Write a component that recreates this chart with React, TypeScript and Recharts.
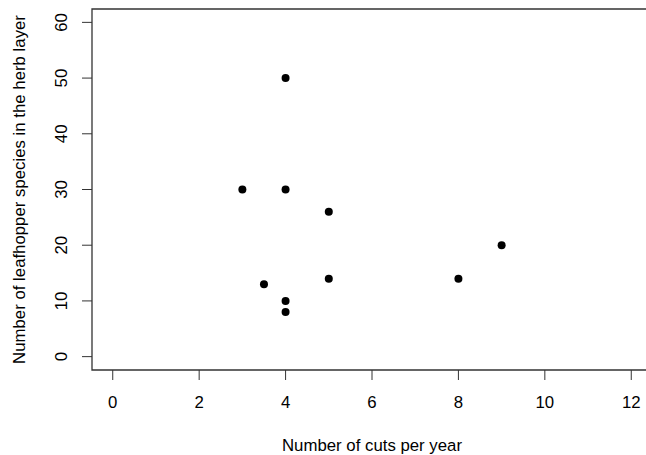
import React from "react";
import { ScatterChart, Scatter, XAxis, YAxis, ReferenceArea } from "recharts";

const cutsPerYear = [3, 3.5, 4, 4, 4, 4, 5, 5, 8, 9];
const leafhopperSpecies = [30, 13, 50, 30, 10, 8, 26, 14, 14, 20];
const xTicks = [0, 2, 4, 6, 8, 10, 12];
const yTicks = [0, 10, 20, 30, 40, 50, 60];

const data = cutsPerYear.map((x, i) => ({ x, y: leafhopperSpecies[i] }));

const FONT = "'Liberation Sans', Arial, sans-serif";
const FS = 16.8;
const AXIS = "#333333";

const XTick = (props: any) => (
  <text x={props.x} y={408} textAnchor="middle" fontFamily={FONT} fontSize={FS} fill="#000">
    {props.payload.value}
  </text>
);

const YTick = (props: any) => (
  <text
    x={67}
    y={props.y}
    textAnchor="middle"
    transform={`rotate(-90, 67, ${props.y})`}
    fontFamily={FONT}
    fontSize={FS}
    fill="#000"
  >
    {props.payload.value}
  </text>
);

const Dot = (props: any) => <circle cx={props.cx} cy={props.cy} r={4} fill="#000" />;

export default function App() {
  return (
    <div style={{ position: "absolute", left: 0, top: 0, width: 646, height: 455, overflow: "hidden", background: "#fff" }}>
      <ScatterChart width={660} height={455} margin={{ top: 9, right: 8, bottom: 84, left: 91 }}>
        <XAxis
          type="number"
          dataKey="x"
          domain={[-0.48, 12.48]}
          ticks={xTicks}
          allowDataOverflow
          height={1}
          axisLine={false}
          tickSize={10}
          tickLine={{ stroke: AXIS, strokeWidth: 1 }}
          tick={<XTick />}
          interval={0}
        />
        <YAxis
          type="number"
          dataKey="y"
          domain={[-2.4, 62.4]}
          ticks={yTicks}
          allowDataOverflow
          width={1}
          axisLine={false}
          tickSize={10}
          tickLine={{ stroke: AXIS, strokeWidth: 1 }}
          tick={<YTick />}
          interval={0}
        />
        <ReferenceArea
          x1={-0.48}
          x2={12.48}
          y1={-2.4}
          y2={62.4}
          fill="none"
          stroke={AXIS}
          strokeWidth={1.3}
          ifOverflow="visible"
        />
        <Scatter data={data} shape={<Dot />} isAnimationActive={false} />
        <text x={372} y={451} textAnchor="middle" fontFamily={FONT} fontSize={FS} fill="#000">
          Number of cuts per year
        </text>
        <text
          x={25}
          y={189.5}
          textAnchor="middle"
          transform="rotate(-90, 25, 189.5)"
          fontFamily={FONT}
          fontSize={FS}
          fill="#000"
        >
          Number of leafhopper species in the herb layer
        </text>
      </ScatterChart>
    </div>
  );
}
